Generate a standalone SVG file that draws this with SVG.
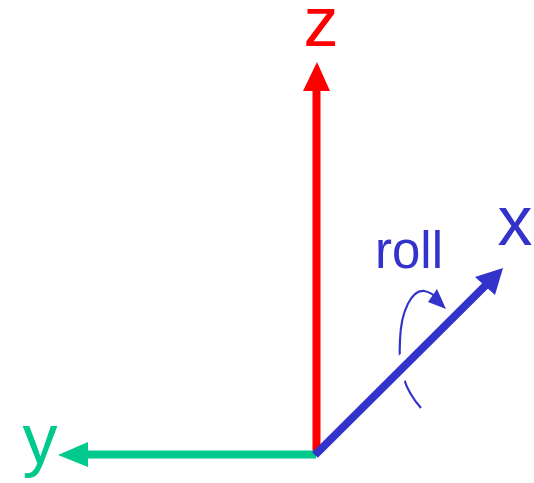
<svg xmlns="http://www.w3.org/2000/svg" width="534" height="483" viewBox="0 0 534 483">
<style>
.lbl{font-family:"Liberation Sans",Arial,sans-serif;font-size:70px}
.shaft{stroke-width:8;fill:none;stroke-linecap:butt}
</style>
<rect width="534" height="483" fill="#ffffff"/>
<g id="connectors">
  <g id="axis-z">
    <line class="shaft" x1="316.5" y1="454" x2="316.5" y2="88" stroke="#ff0000"/>
    <polygon points="317,62 330,91 303,91" fill="#ff0000"/>
  </g>
  <g id="axis-y">
    <line class="shaft" x1="316" y1="454.5" x2="85" y2="454.5" stroke="#00c98d"/>
    <polygon points="58,455 88,442 88,467" fill="#00c98d"/>
  </g>
  <g id="roll-arc">
    <path d="M 421 408 C 405 390, 398 370, 400 340 C 401 310, 412 290, 424 291 C 430 292, 434 295, 437 298" fill="none" stroke="#3333cc" stroke-width="2.2"/>
    <polygon points="437,289 446,309 428,302" fill="#3333cc"/>
  </g>
  <g id="axis-x">
    <line x1="378" y1="392" x2="428" y2="342" stroke="#ffffff" stroke-width="22"/>
    <line class="shaft" x1="315" y1="455" x2="487" y2="284" stroke="#3333cc"/>
    <polygon points="503,268 495,295 475,277" fill="#3333cc"/>
  </g>
</g>
<g id="label-z"><text class="lbl" x="321" y="46" text-anchor="middle" fill="#ff0000">z</text></g>
<g id="label-y"><text class="lbl" x="40" y="463" text-anchor="middle" fill="#00c98d">y</text></g>
<g id="label-x"><text class="lbl" x="515" y="245" text-anchor="middle" fill="#3333cc">x</text></g>
<g id="label-roll"><text x="375" y="268" font-family="'Liberation Sans',Arial,sans-serif" font-size="51" fill="#3333cc">roll</text></g>
</svg>
